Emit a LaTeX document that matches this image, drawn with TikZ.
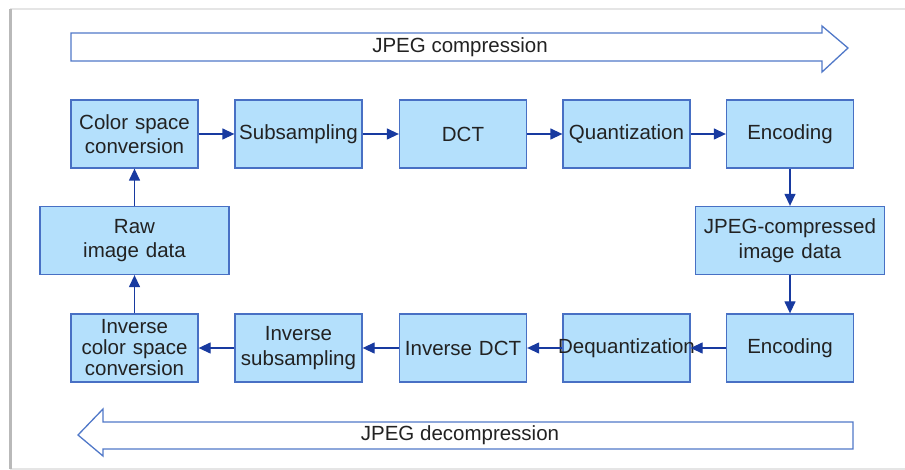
\documentclass[tikz,border=0pt]{standalone}
\usepackage{fontspec}
\setmainfont{Liberation Sans}
\usetikzlibrary{arrows.meta}
\definecolor{boxfill}{RGB}{180,224,252}
\definecolor{boxline}{RGB}{72,112,196}
\definecolor{conn}{RGB}{24,58,160}
\definecolor{txt}{RGB}{34,34,34}
\definecolor{bigline}{RGB}{80,120,200}
\tikzset{
  stagebox/.style={draw=boxline, line width=1.3pt, fill=boxfill, text width=127pt, minimum height=68pt, inner xsep=0pt, inner ysep=0pt, align=center, text=txt, font=\fontsize{20.5}{24.5}\selectfont},
  widebox/.style={stagebox, text width=189pt},
  conarrow/.style={draw=conn, line width=1.3pt, -{Triangle[length=12pt,width=11pt]}},
  bigarrow/.style={draw=bigline, line width=1.3pt, fill=white, line join=miter},
  bigtext/.style={text=txt, font=\fontsize{20.5}{24.5}\selectfont}
}
\begin{document}
\begin{tikzpicture}[x=1pt,y=-1pt]
\useasboundingbox (0,0) rectangle (905,470);
% panel frame
\fill[white] (10,9) rectangle (905,469);
\draw[gray!20, line width=1.5pt] (10,9) -- (905,9);
\draw[gray!20, line width=1.5pt] (10,469) -- (905,469);
\draw[gray!55, line width=3pt] (10,9) -- (10,469);
% big arrows
\draw[bigarrow] (71,33) -- (822,33) -- (822,26) -- (848,48) -- (822,72) -- (822,61) -- (71,61) -- cycle;
\node[bigtext] (comp) at (460,47) {JPEG compression};
\draw[bigarrow] (853,422) -- (103,422) -- (103,409) -- (78,435) -- (103,456) -- (103,449) -- (853,449) -- cycle;
\node[bigtext] (decomp) at (460,435) {JPEG decompression};
% top row
\node[stagebox] (csc) at (134.5,134) {Color space\\conversion};
\node[stagebox] (sub) at (298.5,134) {Subsampling};
\node[stagebox] (dct) at (463,134) {DCT};
\node[stagebox] (qua) at (626.5,134) {Quantization};
\node[stagebox] (enc) at (790,134) {Encoding};
% middle row
\node[widebox] (raw) at (134.5,240.5) {Raw\\image data};
\node[widebox] (jpg) at (790,240.5) {JPEG-compressed\\image data};
% bottom row
\node[stagebox, font=\fontsize{20.5}{21}\selectfont] (icsc) at (134.5,348) {Inverse\\color space\\conversion};
\node[stagebox] (isub) at (298.5,348) {Inverse\\subsampling};
\node[stagebox] (idct) at (463,348) {Inverse DCT};
\node[stagebox] (deq) at (626.5,348) {\makebox[0pt][c]{Dequantization}};
\node[stagebox] (dec) at (790,348) {Encoding};
% connectors
\draw[conarrow] (raw) -- (csc);
\draw[conarrow] (csc) -- (sub);
\draw[conarrow] (sub) -- (dct);
\draw[conarrow] (dct) -- (qua);
\draw[conarrow] (qua) -- (enc);
\draw[conarrow] (enc) -- (jpg);
\draw[conarrow] (jpg) -- (dec);
\draw[conarrow] (dec) -- (deq);
\draw[conarrow] (deq) -- (idct);
\draw[conarrow] (idct) -- (isub);
\draw[conarrow] (isub) -- (icsc);
\draw[conarrow] (icsc) -- (raw);
\end{tikzpicture}
\end{document}
